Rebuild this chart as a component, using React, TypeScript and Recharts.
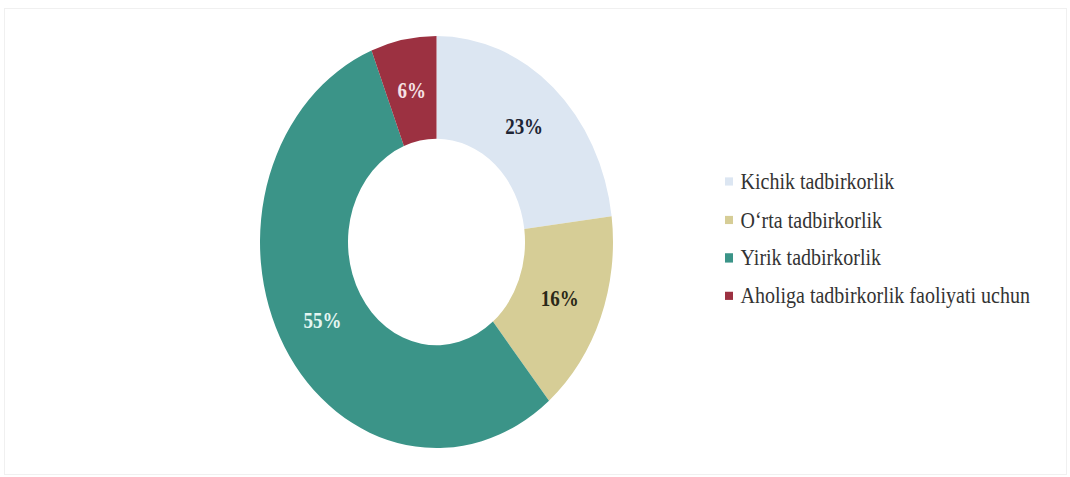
import React from 'react';
import { PieChart, Pie, Cell, Legend } from 'recharts';

const categories = [
  'Kichik tadbirkorlik',
  'O‘rta tadbirkorlik',
  'Yirik tadbirkorlik',
  'Aholiga tadbirkorlik faoliyati uchun',
];
const shares = [23, 16, 55, 6];
const sliceColors = ['#DCE6F2', '#D6CD96', '#3B9488', '#9C3141'];
const labelColors = ['#1E2535', '#2A2818', '#E4F6F2', '#F6E2E5'];

const data = categories.map((name, i) => ({ name, value: shares[i] }));

const K = 1.167; // vertical stretch of the original picture
const W = 1070;
const H = 477 / K;
const RAD = Math.PI / 180;

const renderLabel = (props: any) => {
  const { cx, cy, midAngle, innerRadius, outerRadius, index, value } = props;
  const r = (innerRadius + outerRadius) / 2;
  const x = cx + r * Math.cos(-midAngle * RAD);
  const y = cy + r * Math.sin(-midAngle * RAD);
  return (
    <text
      x={x}
      y={y}
      textAnchor="middle"
      dominantBaseline="central"
      fontFamily="'Liberation Serif', 'Times New Roman', serif"
      fontWeight="bold"
      fontSize={19}
      fill={labelColors[index]}
    >
      {`${value}%`}
    </text>
  );
};

const renderLegend = () => (
  <div style={{ fontFamily: "'Liberation Serif', 'Times New Roman', serif", fontSize: 20, color: '#333' }}>
    {categories.map((c, i) => (
      <div key={c} style={{ display: 'flex', alignItems: 'center', height: 32.6, whiteSpace: 'nowrap' }}>
        <span style={{ display: 'inline-block', width: 7.5, height: 7.5, background: sliceColors[i], marginRight: 8 }} />
        <span>{c}</span>
      </div>
    ))}
  </div>
);

export default function App() {
  return (
    <div style={{ position: 'absolute', left: 0, top: 0, width: 1070, height: 477, background: '#fff', overflow: 'hidden' }}>
      <div
        style={{
          position: 'absolute',
          left: 4,
          top: 8,
          width: 1063,
          height: 467,
          border: '1px solid #f0f0f0',
          boxSizing: 'border-box',
        }}
      />
      <div style={{ position: 'absolute', left: 0, top: 0, transform: `scaleY(${K})`, transformOrigin: '0 0' }}>
        <PieChart width={W} height={H} margin={{ top: 0, right: 0, bottom: 0, left: 0 }}>
          <Pie
            data={data}
            dataKey="value"
            nameKey="name"
            cx={436.5}
            cy={207.4}
            innerRadius={88.5}
            outerRadius={176.5}
            startAngle={90}
            endAngle={-270}
            stroke="none"
            label={renderLabel}
            labelLine={false}
            isAnimationActive={false}
          >
            {data.map((d, i) => (
              <Cell key={d.name} fill={sliceColors[i]} />
            ))}
          </Pie>
          <Legend
            layout="vertical"
            align="right"
            verticalAlign="middle"
            content={renderLegend}
            wrapperStyle={{ position: 'absolute', left: 725, top: 139.4, width: 340, right: 'auto', bottom: 'auto' }}
          />
        </PieChart>
      </div>
    </div>
  );
}
